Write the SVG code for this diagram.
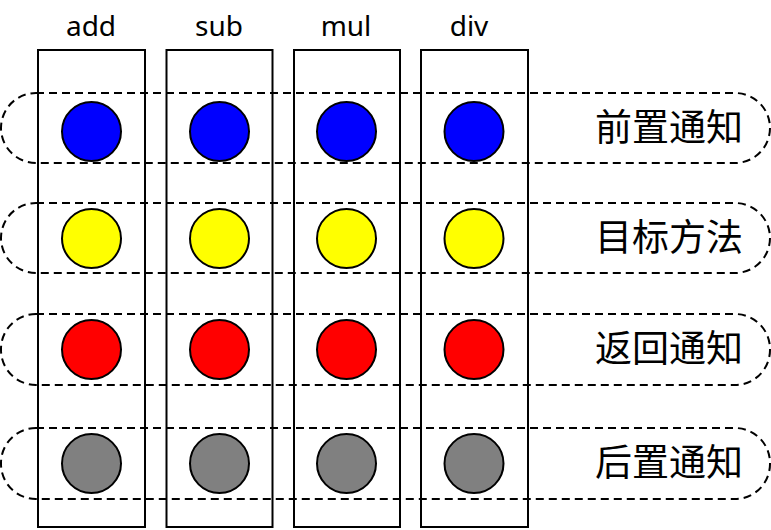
<svg xmlns="http://www.w3.org/2000/svg" width="771" height="530" viewBox="0 0 771 530">
<style>
.col{fill:none;stroke:#000;stroke-width:2}
.band{fill:none;stroke:#000;stroke-width:2;stroke-dasharray:8 5}
.dot{stroke:#000;stroke-width:2}
.lbl{font-family:"Noto Sans","Open Sans",sans-serif;font-size:28px;fill:#000;text-anchor:middle}
.cn{font-family:"Noto Sans CJK SC",sans-serif;font-size:37px;fill:#000;text-anchor:end}
</style>
<rect width="771" height="530" fill="#fff"/>
<g id="columns">
<g id="col-add"><rect class="col" x="38" y="50" width="107" height="477"/><text class="lbl" x="91" y="36">add</text></g>
<g id="col-sub"><rect class="col" x="166.5" y="50" width="106" height="477"/><text class="lbl" x="219" y="36">sub</text></g>
<g id="col-mul"><rect class="col" x="294" y="50" width="106" height="477"/><text class="lbl" x="346" y="36">mul</text></g>
<g id="col-div"><rect class="col" x="421" y="50" width="107" height="477"/><text class="lbl" x="469" y="36">div</text></g>
</g>
<g id="bands">
<g id="band-before"><rect class="band" x="1" y="93" width="769" height="70" rx="35"/><text class="cn" x="743" y="141">前置通知</text></g>
<g id="band-target"><rect class="band" x="1" y="203" width="769" height="70" rx="35"/><text class="cn" x="743" y="251">目标方法</text></g>
<g id="band-return"><rect class="band" x="1" y="314" width="769" height="71" rx="35"/><text class="cn" x="743" y="362">返回通知</text></g>
<g id="band-after"><rect class="band" x="1" y="428" width="769" height="71" rx="35"/><text class="cn" x="743" y="476">后置通知</text></g>
</g>
<g id="dots">
<circle class="dot" cx="91.5" cy="131.5" r="29.5" fill="#0000ff"/>
<circle class="dot" cx="219.5" cy="131.5" r="29.5" fill="#0000ff"/>
<circle class="dot" cx="346.5" cy="131.5" r="29.5" fill="#0000ff"/>
<circle class="dot" cx="474" cy="131.5" r="29.5" fill="#0000ff"/>
<circle class="dot" cx="91.5" cy="238.5" r="29.5" fill="#ffff00"/>
<circle class="dot" cx="219.5" cy="238.5" r="29.5" fill="#ffff00"/>
<circle class="dot" cx="346.5" cy="238.5" r="29.5" fill="#ffff00"/>
<circle class="dot" cx="474" cy="238.5" r="29.5" fill="#ffff00"/>
<circle class="dot" cx="91.5" cy="349.5" r="29.5" fill="#ff0000"/>
<circle class="dot" cx="219.5" cy="349.5" r="29.5" fill="#ff0000"/>
<circle class="dot" cx="346.5" cy="349.5" r="29.5" fill="#ff0000"/>
<circle class="dot" cx="474" cy="349.5" r="29.5" fill="#ff0000"/>
<circle class="dot" cx="91.5" cy="463.5" r="29.5" fill="#808080"/>
<circle class="dot" cx="219.5" cy="463.5" r="29.5" fill="#808080"/>
<circle class="dot" cx="346.5" cy="463.5" r="29.5" fill="#808080"/>
<circle class="dot" cx="474" cy="463.5" r="29.5" fill="#808080"/>
</g>
</svg>
